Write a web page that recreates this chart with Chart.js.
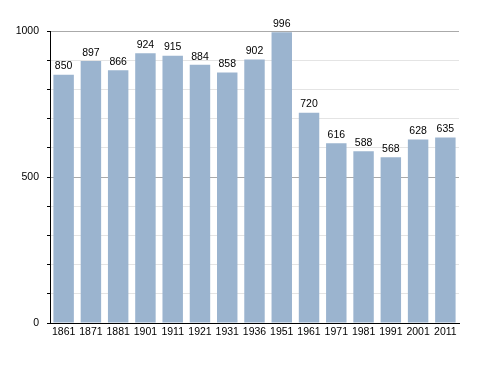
<!DOCTYPE html>
<html>
<head>
<meta charset="utf-8">
<script src="https://cdn.jsdelivr.net/npm/chart.js@4"></script>
<style>
  html, body { margin: 0; padding: 0; background: #fff; }
  #wrap { width: 488px; height: 373px; position: relative; }
</style>
</head>
<body>
<div id="wrap"><canvas id="chart"></canvas></div>
<script>
'use strict';

// Population by census year
const years = ['1861', '1871', '1881', '1901', '1911', '1921', '1931', '1936', '1951', '1961', '1971', '1981', '1991', '2001', '2011'];
const population = [850, 897, 866, 924, 915, 884, 858, 902, 996, 720, 616, 588, 568, 628, 635];
const yLabels = [0, 500, 1000];

const FONT = { family: '"Liberation Sans", Arial, sans-serif', size: 10.5 };

// value labels above each bar
const valueLabels = {
  id: 'valueLabels',
  afterDatasetsDraw(chart) {
    const ctx = chart.ctx;
    const meta = chart.getDatasetMeta(0);
    ctx.save();
    ctx.font = `${FONT.size}px ${FONT.family}`;
    ctx.fillStyle = '#000';
    ctx.textAlign = 'center';
    ctx.textBaseline = 'bottom';
    meta.data.forEach((bar, i) => {
      ctx.fillText(String(population[i]), bar.x, bar.y - 3);
    });
    ctx.restore();
  },
};

new Chart(document.getElementById('chart'), {
  type: 'bar',
  data: {
    labels: years,
    datasets: [{
      data: population,
      backgroundColor: '#9bb4cf',
      borderWidth: 0,
      categoryPercentage: 1,
      barPercentage: 0.75,
    }],
  },
  options: {
    responsive: true,
    maintainAspectRatio: false,
    animation: false,
    layout: { padding: { top: 31, right: 29, left: 0, bottom: 0 } },
    plugins: { legend: { display: false }, tooltip: { enabled: false } },
    scales: {
      x: {
        grid: { display: false, drawTicks: false },
        border: { display: true, color: '#000', width: 1 },
        ticks: { color: '#000', font: FONT, padding: 3, maxRotation: 0, autoSkip: false },
        afterFit: (s) => { s.height = 50; },
      },
      y: {
        min: 0,
        max: 1000,
        ticks: {
          stepSize: 100,
          color: '#000',
          font: FONT,
          padding: 8,
          callback: (v) => (yLabels.includes(v) ? String(v) : ''),
        },
        grid: {
          color: (c) => (yLabels.includes(c.tick && c.tick.value) && c.tick.value !== 0 ? '#aaaaaa' : '#e4e4e4'),
          tickColor: '#000',
          tickLength: 3,
        },
        border: { display: true, color: '#000', width: 1 },
        afterFit: (s) => { s.width = 50; },
      },
    },
  },
  plugins: [valueLabels],
});
</script>
</body>
</html>
